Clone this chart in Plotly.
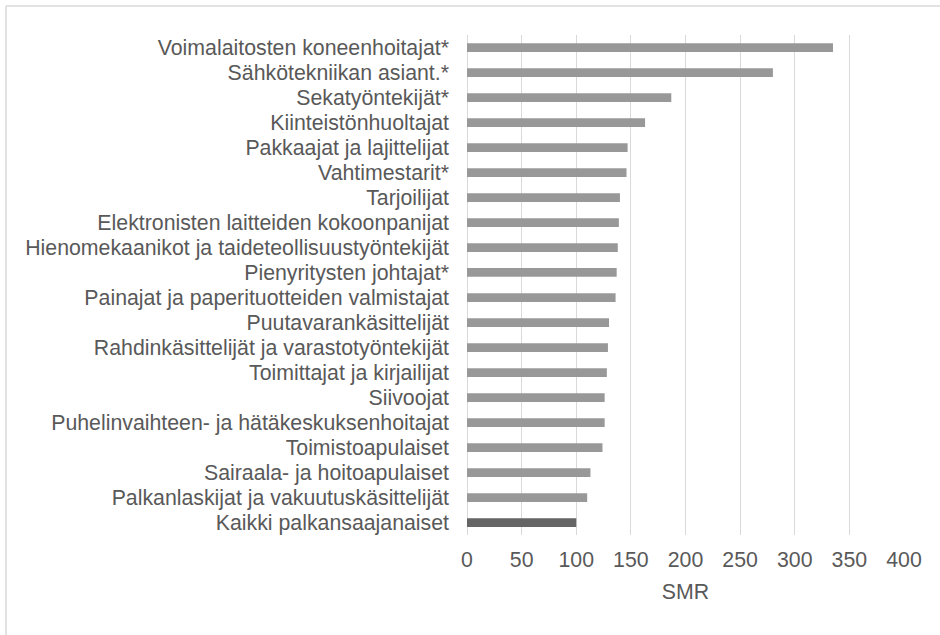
import plotly.graph_objects as go

categories = [
    "Voimalaitosten koneenhoitajat*",
    "Sähkötekniikan asiant.*",
    "Sekatyöntekijät*",
    "Kiinteistönhuoltajat",
    "Pakkaajat ja lajittelijat",
    "Vahtimestarit*",
    "Tarjoilijat",
    "Elektronisten laitteiden kokoonpanijat",
    "Hienomekaanikot ja taideteollisuustyöntekijät",
    "Pienyritysten johtajat*",
    "Painajat ja paperituotteiden valmistajat",
    "Puutavarankäsittelijät",
    "Rahdinkäsittelijät ja varastotyöntekijät",
    "Toimittajat ja kirjailijat",
    "Siivoojat",
    "Puhelinvaihteen- ja hätäkeskuksenhoitajat",
    "Toimistoapulaiset",
    "Sairaala- ja hoitoapulaiset",
    "Palkanlaskijat ja vakuutuskäsittelijät",
    "Kaikki palkansaajanaiset",
]
smr = [335, 280, 187, 163, 147, 146, 140, 139, 138, 137, 136,
       130, 129, 128, 126, 126, 124, 113, 110, 100]
x_ticks = [0, 50, 100, 150, 200, 250, 300, 350, 400]
x_title = "SMR"

bar_colors = ["#989898"] * (len(categories) - 1) + ["#656565"]

FONT = "Liberation Sans, Arial, sans-serif"
TXT = "#595959"
FS = 21.3

fig = go.Figure(
    go.Bar(
        x=smr,
        y=categories,
        orientation="h",
        marker=dict(color=bar_colors, line=dict(width=0)),
        width=0.35,
    )
)

fig.update_layout(
    width=940,
    height=635,
    margin=dict(l=467, r=36, t=35, b=100),
    paper_bgcolor="white",
    plot_bgcolor="white",
    showlegend=False,
    font=dict(family=FONT, size=FS, color=TXT),
    xaxis=dict(
        range=[0, 400],
        tickmode="array",
        tickvals=x_ticks,
        showgrid=True,
        gridcolor="#d9d9d9",
        gridwidth=1.3,
        zeroline=True,
        zerolinecolor="#d9d9d9",
        zerolinewidth=1.3,
        showline=False,
        ticks="",
        ticklabelstandoff=10,
        tickfont=dict(family=FONT, size=FS, color=TXT),
        title=dict(text=x_title, font=dict(family=FONT, size=FS, color=TXT), standoff=12),
        fixedrange=True,
    ),
    yaxis=dict(
        categoryorder="array",
        categoryarray=categories,
        tickmode="array",
        tickvals=categories,
        ticktext=categories,
        autorange="reversed",
        showgrid=False,
        zeroline=False,
        showline=False,
        ticks="",
        ticklabelstandoff=17,
        tickfont=dict(family=FONT, size=FS, color=TXT),
    ),
    shapes=[
        dict(type="line", xref="paper", yref="paper",
             x0=-461 / 437, x1=1.2, y0=1 + 29 / 500, y1=1 + 29 / 500,
             line=dict(color="#d9d9d9", width=1.5)),
        dict(type="line", xref="paper", yref="paper",
             x0=-461 / 437, x1=-461 / 437, y0=-0.3, y1=1 + 29 / 500,
             line=dict(color="#d9d9d9", width=1.5)),
    ],
)

fig.write_html("out.html")
